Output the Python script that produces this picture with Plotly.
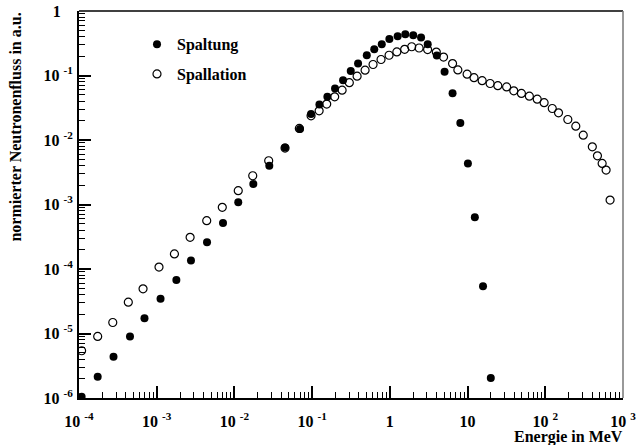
import plotly.graph_objects as go

# Spaltung (fission) spectrum - filled circles
spaltung_e = [1.08e-4, 1.74e-4, 2.78e-4, 4.53e-4, 6.96e-4, 1.12e-3, 1.79e-3, 2.76e-3, 4.44e-3, 7.13e-3,
              1.12e-2, 1.75e-2, 2.81e-2, 4.48e-2, 6.98e-2, 9.68e-2, 0.124, 0.157, 0.197, 0.25,
              0.314, 0.39, 0.505, 0.63, 0.787, 0.986, 1.26, 1.58, 2.0, 2.52,
              3.07, 4.02, 5.06, 6.41, 8.07, 10.1, 12.4, 15.8, 19.9]
spaltung_f = [1.05e-6, 2.14e-6, 4.36e-6, 9.0e-6, 1.73e-5, 3.45e-5, 6.78e-5, 1.35e-4, 2.6e-4, 5.18e-4,
              1.08e-3, 2.08e-3, 3.99e-3, 7.68e-3, 1.48e-2, 2.52e-2, 3.56e-2, 4.67e-2, 6.3e-2, 8.46e-2,
              0.117, 0.153, 0.206, 0.255, 0.305, 0.369, 0.406, 0.436, 0.42, 0.388,
              0.305, 0.204, 0.114, 5.32e-2, 1.83e-2, 4.34e-3, 6.34e-4, 5.42e-5, 2.04e-6]

# Spallation spectrum - open circles
spallation_e = [1.08e-4, 1.74e-4, 2.72e-4, 4.31e-4, 6.67e-4, 1.07e-3, 1.69e-3, 2.69e-3, 4.4e-3, 6.98e-3,
                1.12e-2, 1.72e-2, 2.76e-2, 4.48e-2, 6.84e-2, 9.68e-2, 0.123, 0.154, 0.195, 0.243,
                0.301, 0.379, 0.48, 0.608, 0.77, 0.977, 1.23, 1.55, 1.91, 2.38,
                3.06, 3.96, 4.91, 6.41, 7.5, 9.86, 12.1, 15.4, 19.5, 24.5,
                31.8, 39.3, 49.3, 62.4, 78.8, 96.6, 123, 148, 195, 247,
                308, 403, 469, 539, 606, 682]
spallation_f = [5.4e-6, 9.0e-6, 1.48e-5, 3.06e-5, 4.92e-5, 1.07e-4, 1.71e-4, 3.1e-4, 5.61e-4, 9.05e-4,
                1.64e-3, 2.79e-3, 4.77e-3, 7.5e-3, 1.51e-2, 2.37e-2, 2.83e-2, 3.6e-2, 4.67e-2, 5.92e-2,
                7.74e-2, 9.76e-2, 0.121, 0.148, 0.177, 0.206, 0.232, 0.255, 0.279, 0.267,
                0.252, 0.231, 0.193, 0.153, 0.122, 0.105, 9.24e-2, 8.3e-2, 7.51e-2, 6.95e-2,
                6.66e-2, 5.78e-2, 5.27e-2, 4.78e-2, 4.3e-2, 3.79e-2, 3.08e-2, 2.64e-2, 2.08e-2, 1.64e-2,
                1.19e-2, 7.85e-3, 5.69e-3, 4.34e-3, 3.42e-3, 1.17e-3]

x_tickvals = [1e-4, 1e-3, 1e-2, 1e-1, 1, 10, 100, 1000]
x_ticktext = ["<b>10 <sup>-4</sup></b>", "<b>10 <sup>-3</sup></b>", "<b>10 <sup>-2</sup></b>",
              "<b>10 <sup>-1</sup></b>", "<b>1</b>", "<b>10</b>", "<b>10 <sup>2</sup></b>",
              "<b>10 <sup>3</sup></b>"]
y_tickvals = [1e-6, 1e-5, 1e-4, 1e-3, 1e-2, 1e-1, 1]
y_ticktext = ["<b>10 <sup>-6</sup></b>", "<b>10 <sup>-5</sup></b>", "<b>10 <sup>-4</sup></b>",
              "<b>10 <sup>-3</sup></b>", "<b>10 <sup>-2</sup></b>", "<b>10 <sup>-1</sup></b>",
              "<b>1\u00a0\u00a0\u00a0</b>"]

FONT = "Liberation Serif"

def minor_vals(lo, hi):
    vals = []
    for p in range(lo, hi):
        for m in range(2, 10):
            vals.append(m * 10 ** p)
    return vals

fig = go.Figure()
fig.add_trace(go.Scatter(
    x=spallation_e, y=spallation_f, mode="markers", name="<b>Spallation</b>",
    legendgroup="b", legendrank=2,
    marker=dict(symbol="circle-open", size=8, color="black", line=dict(width=1.2, color="black")),
))
fig.add_trace(go.Scatter(
    x=spaltung_e, y=spaltung_f, mode="markers", name="<b>Spaltung</b>",
    legendgroup="a", legendrank=1,
    marker=dict(symbol="circle", size=8, color="black", line=dict(width=0)),
))

fig.update_layout(
    width=640, height=445,
    margin=dict(l=79, r=17, t=11, b=47, autoexpand=False),
    paper_bgcolor="white", plot_bgcolor="white",
    font=dict(family=FONT, size=16, color="black"),
    showlegend=True,
    legend=dict(x=0.1066, y=0.958, xanchor="left", yanchor="top",
                bgcolor="rgba(0,0,0,0)", tracegroupgap=6,
                font=dict(family=FONT, size=16)),
    xaxis=dict(
        type="log", range=[-4, 3], showgrid=False, zeroline=False, automargin=False,
        showline=True, linewidth=2, linecolor="black",
        tickmode="array", tickvals=x_tickvals, ticktext=x_ticktext,
        ticks="inside", ticklen=12, tickwidth=1.5, tickcolor="black",
        tickfont=dict(family=FONT, size=16),
        minor=dict(tickmode="array", tickvals=minor_vals(-4, 3), ticks="inside",
                   ticklen=6, tickwidth=1.2, tickcolor="black", showgrid=False),
        ticklabelstandoff=8,
    ),
    yaxis=dict(
        type="log", range=[-6, 0], showgrid=False, zeroline=False, automargin=False,
        showline=True, linewidth=2, linecolor="black",
        tickmode="array", tickvals=y_tickvals, ticktext=y_ticktext,
        ticks="inside", ticklen=12, tickwidth=1.5, tickcolor="black",
        tickfont=dict(family=FONT, size=16),
        minor=dict(tickmode="array", tickvals=minor_vals(-6, 0), ticks="inside",
                   ticklen=6, tickwidth=1.2, tickcolor="black", showgrid=False),
        ticklabelstandoff=1,
    ),
    shapes=[
        dict(type="line", xref="paper", yref="paper", x0=0, x1=1, y0=1, y1=1,
             line=dict(color="black", width=1.5)),
        dict(type="line", xref="paper", yref="paper", x0=1, x1=1, y0=0, y1=1,
             line=dict(color="#777777", width=1.5)),
    ],
    annotations=[
        dict(text="<b>normierter Neutronenfluss in a.u.</b>", xref="paper", yref="paper",
             x=-0.1176, y=1.0, xanchor="center", yanchor="top", textangle=-90,
             showarrow=False, font=dict(family=FONT, size=16)),
        dict(text="<b>Energie in MeV</b>", xref="paper", yref="paper",
             x=1.0037, y=-0.102, xanchor="right", yanchor="middle",
             showarrow=False, font=dict(family=FONT, size=16)),
    ],
)

fig.write_html("out.html")
